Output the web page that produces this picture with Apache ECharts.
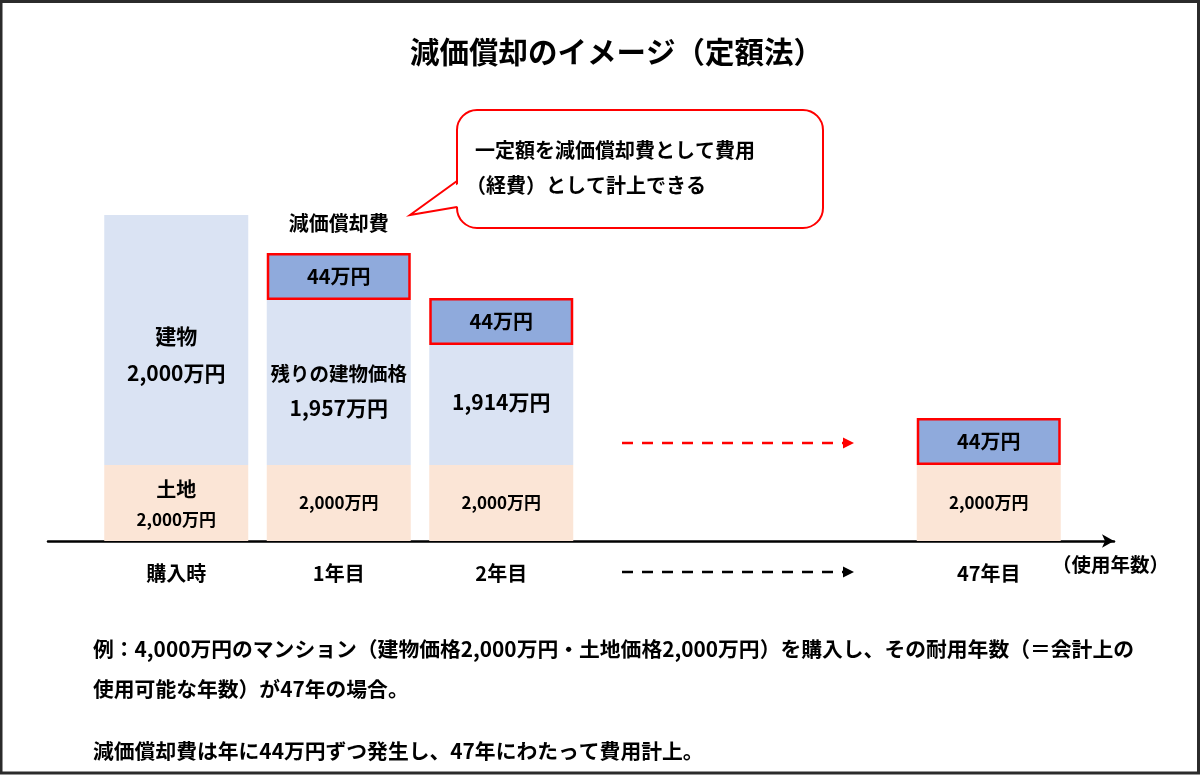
<!DOCTYPE html>
<html>
<head>
<meta charset="utf-8">
<script src="https://cdn.jsdelivr.net/npm/echarts@6/dist/echarts.min.js"></script>
<style>
html,body{margin:0;padding:0;background:#fff;}
#chart{width:1200px;height:775px;}
</style>
</head>
<body>
<div id="chart"></div>
<script>
// ---- data ----
const categories = ['購入時', '1年目', '2年目', '', '', '47年目'];
// amounts (万円)
const landValues = [2000, 2000, 2000, null, null, 2000];
const buildingValues = [2000, 1957, 1914, null, null, null];
const depreciationValues = [null, 44, 44, null, null, 44];
// schematic bar heights as drawn in the picture (arbitrary units)
const landHeights = [76, 76, 76, null, null, 76];
const buildingHeights = [250, 165, 120, null, null, null];
const depreciationHeights = [null, 47, 47, null, null, 47];
const noteLabels = [null, '減価償却費', null, null, null, null];

const titleText = '減価償却のイメージ（定額法）';
const axisName = '（使用年数）';
const calloutLines = ['一定額を減価償却費として費用', '（経費）として計上できる'];
const footLines = [
  '例：4,000万円のマンション（建物価格2,000万円・土地価格2,000万円）を購入し、その耐用年数（＝会計上の',
  '使用可能な年数）が47年の場合。',
  '減価償却費は年に44万円ずつ発生し、47年にわたって費用計上。'
];

const FONT = '"Noto Sans CJK JP", "Noto Sans", sans-serif';
function fmt(v) { return String(v).replace(/\B(?=(\d{3})+(?!\d))/g, ',') + '万円'; }

const chart = echarts.init(document.getElementById('chart'), null, {renderer: 'canvas'});

const landData = landHeights.map((h, i) => {
  if (h == null) return null;
  const item = {value: h};
  if (i === 0) {
    item.label = {formatter: '{h|土地}\n{s|' + fmt(landValues[i]) + '}'};
  } else {
    item.label = {formatter: '{s2|' + fmt(landValues[i]) + '}'};
  }
  return item;
});
const buildingData = buildingHeights.map((h, i) => {
  if (h == null) return null;
  const item = {value: h};
  if (i === 0) {
    item.label = {formatter: '{h2|建物}\n{b|' + fmt(buildingValues[i]) + '}', offset: [0, 15]};
  } else if (i === 1) {
    item.label = {formatter: '{m|残りの建物価格}\n{b|' + fmt(buildingValues[i]) + '}', offset: [0, 10]};
  } else {
    item.label = {formatter: '{b|' + fmt(buildingValues[i]) + '}', offset: [0, -3]};
  }
  return item;
});
const depData = depreciationHeights.map((h, i) => h == null ? null : {value: h, label: {formatter: fmt(depreciationValues[i])}});
const noteData = noteLabels.map(t => t == null ? null : {value: 0, label: {formatter: t}});

const rich = {
  h: {fontFamily: FONT, fontSize: 20, fontWeight: 'bold', color: '#000', lineHeight: 34},
  h2: {fontFamily: FONT, fontSize: 21, fontWeight: 'bold', color: '#000', lineHeight: 36},
  s: {fontFamily: FONT, fontSize: 17, fontWeight: 'bold', color: '#000', lineHeight: 28},
  s2: {fontFamily: FONT, fontSize: 17, fontWeight: 'bold', color: '#000'},
  b: {fontFamily: FONT, fontSize: 21, fontWeight: 'bold', color: '#000', lineHeight: 38},
  m: {fontFamily: FONT, fontSize: 19.5, fontWeight: 'bold', color: '#000', lineHeight: 32}
};

const option = {
  backgroundColor: '#ffffff',
  animation: false,
  title: {
    text: titleText,
    left: 405, top: 32,
    textStyle: {fontFamily: FONT, fontSize: 29.5, fontWeight: 'bold', color: '#000'}
  },
  grid: [
    {left: 95, right: 130, top: 141, bottom: 234},
    {left: 48, right: 86, top: 141, bottom: 234}
  ],
  xAxis: [
    {
      type: 'category', gridIndex: 0, data: categories,
      axisLine: {show: false}, axisTick: {show: false},
      axisLabel: {margin: 22, fontFamily: FONT, fontSize: 20, fontWeight: 'bold', color: '#000'}
    },
    {
      type: 'value', gridIndex: 1, min: 0, max: 1,
      axisLine: {show: true, onZero: false, lineStyle: {color: '#000', width: 2.5}, symbol: ['none', 'arrow'], symbolSize: [10, 12]},
      axisTick: {show: false}, axisLabel: {show: false}, splitLine: {show: false},
      name: axisName, nameLocation: 'end', nameGap: -62,
      nameTextStyle: {fontFamily: FONT, fontSize: 19.5, fontWeight: 'bold', color: '#000', verticalAlign: 'top', padding: [14, 0, 0, 0]}
    }
  ],
  yAxis: [
    {type: 'value', gridIndex: 0, min: 0, max: 400, show: false},
    {type: 'value', gridIndex: 1, min: 0, max: 400, show: false}
  ],
  series: [
    {
      name: '土地', type: 'bar', stack: 'a', barWidth: 144, barGap: '0%',
      data: landData, itemStyle: {color: '#FBE5D6'},
      label: {show: true, position: 'inside', rich: rich}
    },
    {
      name: '建物', type: 'bar', stack: 'a', barWidth: 144,
      data: buildingData, itemStyle: {color: '#DAE3F3'},
      label: {show: true, position: 'inside', rich: rich}
    },
    {
      name: '減価償却費', type: 'bar', stack: 'a', barWidth: 144,
      data: depData, itemStyle: {color: '#8FAADC', borderColor: '#FF0000', borderWidth: 2.5},
      label: {show: true, position: 'inside', fontFamily: FONT, fontSize: 20, fontWeight: 'bold', color: '#000'}
    },
    {
      name: 'note', type: 'bar', stack: 'a', barWidth: 144,
      data: noteData, itemStyle: {color: 'transparent'},
      label: {show: true, position: 'top', distance: 20, fontFamily: FONT, fontSize: 20, fontWeight: 'bold', color: '#000'}
    }
  ],
  graphic: [
    {type: 'rect', shape: {x: 1, y: 1.5, width: 1197.5, height: 771.5}, style: {fill: 'none', stroke: '#2b2b2b', lineWidth: 3}, silent: true, z: 100},
    // callout
    {type: 'rect', shape: {x: 457, y: 110, width: 366, height: 118, r: 20}, style: {fill: '#fff', stroke: '#FF0000', lineWidth: 2}, z: 10},
    {type: 'polygon', shape: {points: [[461, 182], [411, 215], [461, 206]]}, style: {fill: '#fff'}, z: 11},
    {type: 'polyline', shape: {points: [[457, 181], [410, 215], [457, 207]]}, style: {stroke: '#FF0000', lineWidth: 2, fill: null}, z: 12},
    {type: 'text', left: 475, top: 140, style: {text: calloutLines[0], font: 'bold 20px ' + FONT, fill: '#000'}, z: 13},
    {type: 'text', left: 466, top: 175, style: {text: calloutLines[1], font: 'bold 20px ' + FONT, fill: '#000'}, z: 13},
    // dashed arrows
    {type: 'line', shape: {x1: 622, y1: 443, x2: 843, y2: 443}, style: {stroke: '#FF0000', lineWidth: 2.5, lineDash: [11, 9]}, z: 10},
    {type: 'polygon', shape: {points: [[843, 437.5], [854, 443], [843, 448.5]]}, style: {fill: '#FF0000'}, z: 10},
    {type: 'line', shape: {x1: 622, y1: 572, x2: 843, y2: 572}, style: {stroke: '#000', lineWidth: 2.5, lineDash: [11, 9]}, z: 10},
    {type: 'polygon', shape: {points: [[843, 566.5], [854, 572], [843, 577.5]]}, style: {fill: '#000'}, z: 10},
    // footnote
    {type: 'text', left: 93, top: 639, style: {text: footLines[0], font: 'bold 20.8px ' + FONT, fill: '#000'}},
    {type: 'text', left: 93, top: 679, style: {text: footLines[1], font: 'bold 20.8px ' + FONT, fill: '#000'}},
    {type: 'text', left: 93, top: 741, style: {text: footLines[2], font: 'bold 20.8px ' + FONT, fill: '#000'}}
  ]
};
chart.setOption(option);
</script>
</body>
</html>
